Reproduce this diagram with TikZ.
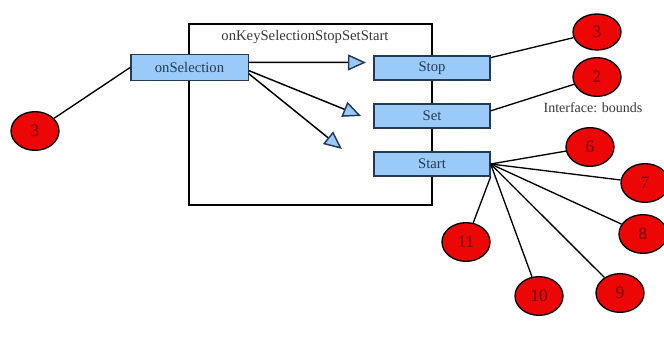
\documentclass[tikz,border=0pt]{standalone}
\usepackage{fontspec}
\setmainfont{Liberation Serif}
\usetikzlibrary{arrows.meta,shapes.geometric}
\definecolor{boxblue}{RGB}{153,202,248}
\definecolor{boxline}{RGB}{38,58,88}
\definecolor{ballred}{RGB}{236,6,6}
\definecolor{numred}{RGB}{112,0,0}
\definecolor{labelgray}{RGB}{55,55,55}

\begin{document}
\begin{tikzpicture}[x=0.75pt,y=0.75pt,yscale=-1,xscale=1,
  box/.style={draw=boxline,fill=boxblue,line width=1pt,minimum width=87pt,minimum height=18pt,inner sep=0pt,text=boxline,font=\fontsize{11}{13}\selectfont},
  ball/.style={ellipse,draw=black,fill=ballred,line width=1pt,minimum width=36pt,minimum height=29pt,inner sep=0pt,text=numred,font=\fontsize{13}{15}\selectfont},
  call/.style={line width=1.1pt,-{Triangle[length=13.5pt,width=12pt,color=boxline,fill=boxblue]}},
  wire/.style={line width=1pt}]
\useasboundingbox (0,0) rectangle (664,352);

%Frame
\draw [line width=1.1pt]  (189,24) rectangle (432,205) ;

% Text Node
\draw (305,37) node [inner sep=0.75pt,text=labelgray,font=\fontsize{11}{13}\selectfont]  {onKeySelectionStopSetStart};
% Text Node
\draw (593,108) node [inner sep=0.75pt,text=labelgray,font=\fontsize{10.5}{12}\selectfont]  {Interface: bounds};

% Boxes
\node [box,minimum height=19.5pt,minimum width=88pt] (onsel) at (189.5,67.5) {onSelection};
\node [box] (stop) at (432,68) {Stop};
\node [box] (set) at (432,116) {Set};
\node [box] (start) at (432,164) {Start};

% Balls
\node [ball] (b3a) at (35,131) {3};
\node [ball,minimum height=27pt] (b3b) at (597,32) {3};
\node [ball] (b2) at (597,77) {2};
\node [ball] (b6) at (590,147) {6};
\node [ball] (b7) at (645,183) {7};
\node [ball] (b8) at (643,234) {8};
\node [ball] (b9) at (620,293) {9};
\node [ball] (b10) at (539,296) {10};
\node [ball] (b11) at (466,242) {11};

% Arrow tips
\coordinate (tip1) at (366,62.5);
\coordinate (tip2) at (361,116);
\coordinate (tip3) at (342,149);

%Straight Lines
\draw [call]  (onsel.5) -- (tip1) ;
\draw [call]  (onsel.-3) -- (tip2) ;
\draw [call]  (onsel.-6) -- (tip3) ;
%Straight Lines
\draw [wire]  (onsel.west) -- (b3a) ;
\draw [wire]  (stop.10) -- (b3b) ;
\draw [wire]  (set.5) -- (b2) ;
\draw [wire]  (start.east) -- (b6) ;
\draw [wire]  (start.east) -- (b7) ;
\draw [wire]  (start.east) -- (b8) ;
\draw [wire]  (start.east) -- (b9) ;
\draw [wire]  (start.east) -- (b10) ;
\draw [wire]  (start.south east) -- (b11) ;

\end{tikzpicture}
\end{document}
